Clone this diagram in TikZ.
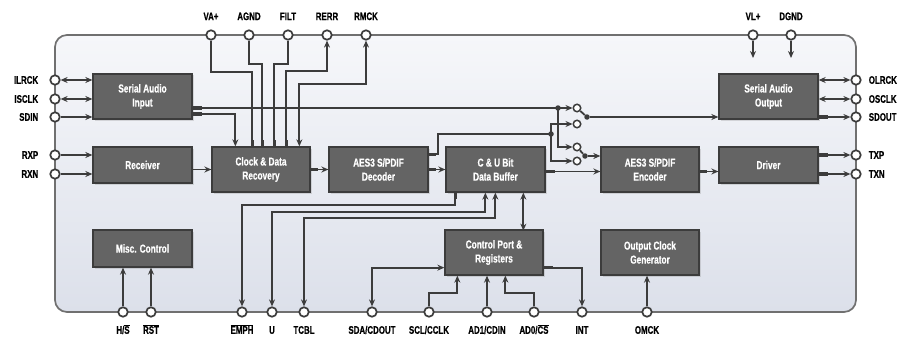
\documentclass[tikz,border=0pt]{standalone}
\usepackage{fontspec}
\setmainfont{Liberation Sans}[FakeStretch=0.72,BoldFeatures={FakeBold=0.6}]
\usetikzlibrary{calc,arrows.meta,shadows}
\definecolor{ChipEdge}{RGB}{112,112,112}
\definecolor{ChipTop}{RGB}{246,247,250}
\definecolor{ChipBot}{RGB}{220,224,234}
\definecolor{BlockFill}{RGB}{100,100,100}
\definecolor{BlockEdge}{RGB}{60,60,60}
\definecolor{WireColor}{RGB}{60,60,60}
\newcommand\ovl[1]{$\overline{\hbox{#1}}$}

\begin{document}
\begin{tikzpicture}[x=1pt,y=-1pt,font=\bfseries\fontsize{11}{12}\selectfont,
  blk/.style n args={2}{rectangle,draw=BlockEdge,fill=BlockFill,line width=1.3pt,minimum width=#1pt,minimum height=#2pt,text=white,align=center,inner sep=0pt,font=\bfseries\fontsize{11.5}{14}\selectfont,drop shadow={opacity=0.25,shadow xshift=1.5pt,shadow yshift=-1.5pt}},
  pinc/.style={circle,draw=WireColor,fill=white,line width=1.7pt,minimum size=9.5pt,inner sep=0pt},
  swc/.style={circle,draw=WireColor,fill=white,line width=1.5pt,minimum size=7.5pt,inner sep=0pt},
  dot/.style={circle,fill=WireColor,minimum size=5.5pt,inner sep=0pt},
  lbl/.style={inner sep=1pt,text=black},
  wire/.style={draw=WireColor,line width=1.8pt,>={Stealth[length=7pt,width=6pt]}},
  stub/.style={draw=WireColor,line width=3.6pt},
  chip/.style={draw=ChipEdge,line width=1.7pt,rounded corners=12pt,top color=ChipTop,bottom color=ChipBot}]
\useasboundingbox (0,0) rectangle (908,337);
\draw[chip] (55,35) rectangle (856,312);
\node[blk={99}{45}](sai) at(142.5,96.5) {Serial Audio\\Input};
\node[blk={99}{36}](rcv) at(142.5,165) {Receiver};
\node[blk={98}{45}](cdr) at(261,169.5) {Clock \& Data\\Recovery};
\node[blk={99}{45}](dec) at(378.5,169.5) {AES3 S/PDIF\\Decoder};
\node[blk={99}{45}](cub) at(495.5,169.5) {C \& U Bit\\Data Buffer};
\node[blk={98}{45}](enc) at(650,169.5) {AES3 S/PDIF\\Encoder};
\node[blk={99}{36}](drv) at(768.5,165) {Driver};
\node[blk={99}{45}](sao) at(768.5,96.5) {Serial Audio\\Output};
\node[blk={99}{37}](misc) at(142.5,248.5) {Misc. Control};
\node[blk={98}{45}](cpr) at(494,252.5) {Control Port \&\\Registers};
\node[blk={98}{45}](ocg) at(650,252.5) {Output Clock\\Generator};
\foreach \n/\y/\t in {ilrck/80/ILRCK,isclk/99/ISCLK,sdin/117/SDIN,rxp/155/RXP,rxn/174/RXN} {
   \node[pinc,label={[lbl,label distance=10pt]left:\t}](\n) at(55,\y) {};
}
\foreach \n/\y/\t in {olrck/80/OLRCK,osclk/99/OSCLK,sdout/117/SDOUT,txp/155/TXP,txn/174/TXN} {
   \node[pinc,label={[lbl,label distance=6pt]right:\t}](\n) at(856,\y) {};
}
\foreach \n/\x/\t in {vap/211/VA+,agnd/249/AGND,filt/288/FILT,rerr/327/RERR,rmck/366/RMCK,vlp/753/VL+,dgnd/791/DGND} {
   \node[pinc,label={[lbl,label distance=8pt]above:\t}](\n) at(\x,35) {};
}
\foreach \n/\x/\t in {hs/123/{H/\ovl{S}},rst/151/\ovl{RST},emph/242/\ovl{EMPH},upin/272/U,tcbl/304/TCBL,sda/372/{SDA/CDOUT},scl/429/{SCL/CCLK},ad1/487/{AD1/CDIN},ad0/534/{AD0/\ovl{CS}},int/582/INT,omck/647/OMCK} {
   \node[pinc,label={[lbl,text height=8pt,text depth=0pt,label distance=7pt]below:\t}](\n) at(\x,312) {};
}
\coordinate (j1) at (558,108);
\coordinate (j2) at (551,134);
\node[swc](s1a) at(577,108) {};
\node[swc](s1b) at(577,124) {};
\node[swc](s2a) at(577,147) {};
\node[swc](s2b) at(577,161) {};
\node[dot](d1) at(587,117) {};
\node[dot](d2) at(585,156) {};
\node[dot] at(j1) {};
\node[dot] at(j2) {};
\draw[wire,<->] (ilrck) -- (ilrck -| sai.west);
\draw[wire,<->] (isclk) -- (isclk -| sai.west);
\draw[wire,->] (sdin) -- (sdin -| sai.west);
\draw[wire,->] (rxp) -- (rxp -| rcv.west);
\draw[wire,->] (rxn) -- (rxn -| rcv.west);
\draw[wire,<->] (olrck) -- (olrck -| sao.east);
\draw[wire,<->] (osclk) -- (osclk -| sao.east);
\draw[wire,<-] (sdout) -- (sdout -| sao.east);
\draw[wire,<-] (txp) -- (txp -| drv.east);
\draw[wire,<-] (txn) -- (txn -| drv.east);
\draw[wire,->] (rcv.east |- cdr) -- (cdr.west);
\draw[wire,->] (cdr.east) -- (dec.west);
\draw[wire,->] (dec.east) -- (cub.west);
\draw[wire,->] ($(cub.east)+(0,2)$) -- ($(enc.west)+(0,2)$);
\draw[wire,->] ($(enc.east)+(0,2)$) -- ($(drv.west |- enc)+(0,2)$);
\draw[wire] (vap) -- (vap |- 0,72) -| ($(cdr.north west)+(41,0)$);
\draw[wire] (agnd) -- (agnd |- 0,64) -| ($(cdr.north west)+(51,0)$);
\draw[wire] (filt) -- (filt |- 0,64) -| ($(cdr.north west)+(63,0)$);
\draw[wire,->] ($(cdr.north west)+(75,0)$) -- ($(cdr.north west)+(75,-75)$) -| (rerr);
\draw[wire,<->] (rmck) -- (rmck |- 0,84) -| ($(cdr.north west)+(88,0)$);
\draw[wire,->] (vlp) -- (vlp |- 0,58);
\draw[wire,->] (dgnd) -- (dgnd |- 0,58);
\draw[wire] (sai.east |- j1) -- (j1);
\draw[wire,->] ($(sai.east)+(0,17.5)$) -| ($(cdr.north west)+(24,0)$);
\draw[wire,->] (j1) -- (s1a);
\draw[wire,->] (j1) |- (s2a);
\draw[wire] ($(dec.north east)+(0,8)$) -- ++(9,0) |- (j2);
\draw[wire,->] (j2) |- (s1b);
\draw[wire,->] (j2) |- (s2b);
\draw[wire] (s1a) -- (d1);
\draw[wire] (s2a) -- (d2);
\draw[wire,->] (d1) -- (d1 -| sao.west);
\draw[wire,->] (d2) -- (d2 -| enc.west);
\draw[wire,->] ($(cub.south west)+(10,0)$) -- ($(cub.south west)+(10,12)$) -| (emph);
\draw[wire,<->] ($(cub.south west)+(40,0)$) -- ($(cub.south west)+(40,19)$) -| (upin);
\draw[wire,<->] ($(cub.south west)+(50,0)$) -- ($(cub.south west)+(50,25)$) -| (tcbl);
\draw[wire,<->] ($(cub.south west)+(78,0)$) -- ($(cub.south west)+(78,38)$);
\draw[wire,<->] (sda) |- ($(cpr.south west)+(0,-8)$);
\draw[wire,->] (scl) -- (scl |- 0,293) -| ($(cpr.south west)+(13,0)$);
\draw[wire,->] (ad1) -- (ad1 |- cpr.south);
\draw[wire,->] (ad0) -- (ad0 |- 0,293) -| ($(cpr.south west)+(61,0)$);
\draw[wire,->] ($(cpr.south east)+(0,-8)$) -| (int);
\draw[wire,->] (omck) -- (omck |- ocg.south);
\draw[wire,->] (hs) -- (hs |- misc.south);
\draw[wire,->] (rst) -- (rst |- misc.south);
\draw[stub] (sai.east |- j1) -- ++(9,0);
\draw[stub] ($(sai.east)+(0,17.5)$) -- ++(9,0);
\draw[stub] (sdout -| sao.east) -- ++(9,0);
\draw[stub] (txp -| drv.east) -- ++(9,0);
\draw[stub] (txn -| drv.east) -- ++(9,0);
\draw[stub] (cdr.east) -- ++(7,0);
\draw[stub] (dec.east) -- ++(7,0);
\draw[stub] ($(dec.north east)+(0,8)$) -- ++(7,0);
\draw[stub] ($(cub.east)+(0,2)$) -- ++(9,0);
\draw[stub] ($(enc.east)+(0,2)$) -- ++(7,0);
\draw[stub] ($(cpr.south east)+(0,-8)$) -- ++(9,0);
\draw[stub] ($(cub.south west)+(10,0)$) -- ++(0,6);
\foreach \dx in {41,51,63,75} {
   \draw[stub] ($(cdr.north west)+(\dx,0)$) -- ++(0,-6);
}
\end{tikzpicture}
\end{document}
